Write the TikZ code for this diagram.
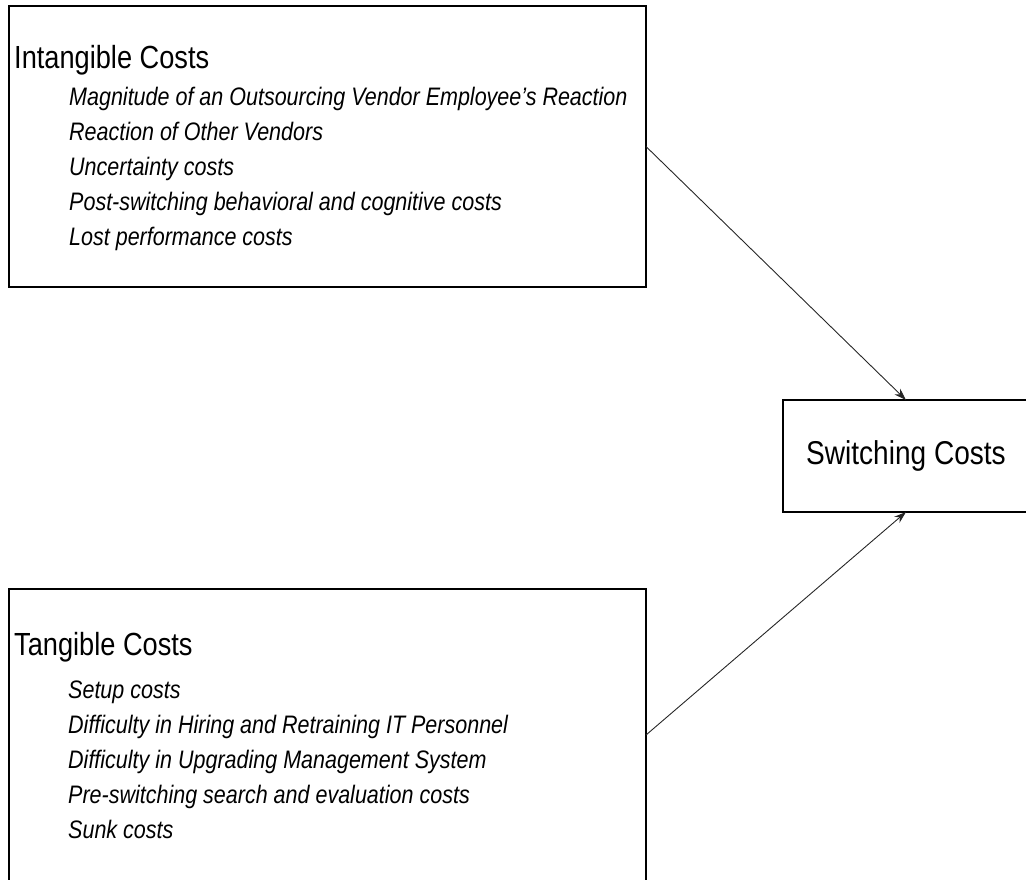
\documentclass[tikz,border=0pt]{standalone}
\usepackage{fontspec}
\setmainfont{Liberation Sans}[FakeStretch=0.85]
\usetikzlibrary{arrows.meta}
\begin{document}
\begin{tikzpicture}[x=1pt,y=-1pt,
  box/.style={draw=black,line width=1.3pt,inner sep=0pt,outer sep=0pt},
  head/.style={anchor=base west,inner sep=0pt,font=\fontsize{32}{36}\selectfont},
  item/.style={anchor=base west,inner sep=0pt,font=\fontsize{25.3}{29}\selectfont\itshape},
  link/.style={draw=black!85,line width=0.9pt,-{Stealth[length=12pt,width=8pt]}}]
\useasboundingbox (0,0) rectangle (1026,879);

% frames
\node[box,minimum width=637pt,minimum height=281pt] (intang) at (327.5,146.5) {};
\node[box,minimum width=637pt,minimum height=292pt] (tang) at (327.5,735) {};
\node[box,minimum width=246pt,minimum height=112pt,font=\fontsize{33}{38}\selectfont] (sw) at (906,456) {Switching Costs};

% intangible costs
\node[head] (ihead) at (14,68) {Intangible Costs};
\node[item] (i1) at (69,105) {Magnitude of an Outsourcing Vendor Employee's Reaction};
\node[item] (i2) at (69,140) {Reaction of Other Vendors};
\node[item] (i3) at (69,175) {Uncertainty costs};
\node[item] (i4) at (69,210) {Post-switching behavioral and cognitive costs};
\node[item] (i5) at (69,245) {Lost performance costs};

% tangible costs
\node[head] (thead) at (14,655) {Tangible Costs};
\node[item] (t1) at (68,698) {Setup costs};
\node[item] (t2) at (68,733) {Difficulty in Hiring and Retraining IT Personnel};
\node[item] (t3) at (68,768) {Difficulty in Upgrading Management System};
\node[item] (t4) at (68,803) {Pre-switching search and evaluation costs};
\node[item] (t5) at (68,838) {Sunk costs};

% connectors
\draw[link] (intang.east) -- (sw.north);
\draw[link] (tang.east) -- (sw.south);
\end{tikzpicture}
\end{document}
